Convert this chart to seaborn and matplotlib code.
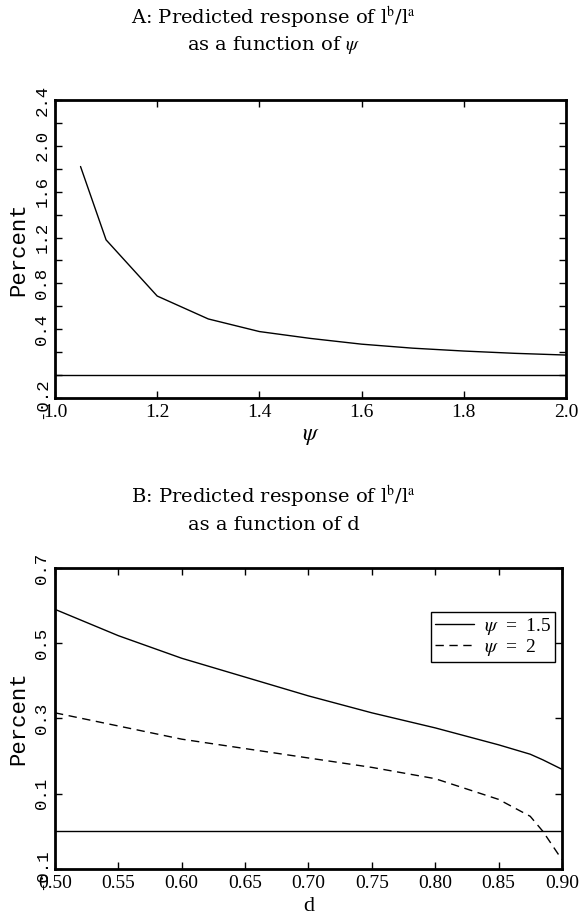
import seaborn as sns
import matplotlib.pyplot as plt
import numpy as np

# panel A: response against psi
psi = [1.05, 1.1, 1.2, 1.3, 1.4, 1.5, 1.6, 1.7, 1.8, 1.9, 2.0]
response_psi = [1.82, 1.18, 0.69, 0.49, 0.38, 0.32, 0.27, 0.235, 0.21, 0.19, 0.175]
psi_xticks = [1.0, 1.2, 1.4, 1.6, 1.8, 2.0]
psi_xticklabels = ['1.0', '1.2', '1.4', '1.6', '1.8', '2.0']
psi_yticks = [-0.2, 0.0, 0.2, 0.4, 0.6, 0.8, 1.0, 1.2, 1.4, 1.6, 1.8, 2.0, 2.2, 2.4]
psi_yticklabels = ['-0.2', '', '', '0.4', '', '0.8', '', '1.2', '', '1.6', '', '2.0', '', '2.4']

# panel B: response against d
d = [0.50, 0.55, 0.60, 0.65, 0.70, 0.75, 0.80, 0.85, 0.875, 0.885, 0.90]
response_psi15 = [0.59, 0.52, 0.46, 0.41, 0.36, 0.315, 0.275, 0.23, 0.205, 0.19, 0.165]
response_psi2 = [0.315, 0.28, 0.245, 0.22, 0.195, 0.17, 0.14, 0.085, 0.04, 0.0, -0.075]
d_xticks = [0.50, 0.55, 0.60, 0.65, 0.70, 0.75, 0.80, 0.85, 0.90]
d_xticklabels = ['0.50', '0.55', '0.60', '0.65', '0.70', '0.75', '0.80', '0.85', '0.90']
d_yticks = [-0.1, 0.1, 0.3, 0.5, 0.7]
d_yticklabels = ['-0.1', '0.1', '0.3', '0.5', '0.7']

sns.set_style('ticks')
plt.rcParams['font.family'] = ['Liberation Serif', 'DejaVu Serif']
plt.rcParams['mathtext.fontset'] = 'stix'
plt.rcParams['text.color'] = 'black'
plt.rcParams['axes.labelcolor'] = 'black'
plt.rcParams['xtick.color'] = 'black'
plt.rcParams['ytick.color'] = 'black'

serif = 'Liberation Serif'
title_font = 'DejaVu Serif'
mono = 'Liberation Mono'

fig = plt.figure(figsize=(5.8, 9.22), dpi=100)
ax1 = fig.add_axes([0.0948, 0.5683, 0.881, 0.3232])
ax2 = fig.add_axes([0.0948, 0.0575, 0.874, 0.3265])


def style_axes(ax):
    for s in ax.spines.values():
        s.set_linewidth(2)
        s.set_color('black')
    ax.tick_params(direction='in', top=True, right=True, length=5, width=1,
                   colors='black', pad=4)
    ax.axhline(0, color='black', lw=1)


sns.lineplot(x=psi, y=response_psi, color='black', lw=1, ax=ax1)
style_axes(ax1)
ax1.set_xlim(1.0, 2.0)
ax1.set_ylim(-0.2, 2.4)
ax1.set_xticks(psi_xticks, psi_xticklabels, family=serif, fontsize=14)
ax1.set_yticks(psi_yticks, psi_yticklabels, family=mono, fontsize=12.5,
               rotation=90, va='center')
ax1.set_xlabel(r'$\psi$', fontsize=17, labelpad=4)
ax1.set_ylabel('Percent', family=mono, fontsize=16, labelpad=4)

sns.lineplot(x=d, y=response_psi15, color='black', lw=1, ax=ax2,
             label=r'$\psi$  =  1.5')
sns.lineplot(x=d, y=response_psi2, color='black', lw=1, ax=ax2,
             label=r'$\psi$  =  2')
ax2.lines[1].set_dashes((6, 4))
style_axes(ax2)
ax2.set_xlim(0.50, 0.90)
ax2.set_ylim(-0.1, 0.7)
ax2.set_xticks(d_xticks, d_xticklabels, family=serif, fontsize=14)
ax2.set_yticks(d_yticks, d_yticklabels, family=mono, fontsize=12.5,
               rotation=90, va='center')
ax2.set_xlabel('d', fontsize=16, labelpad=4)
ax2.set_ylabel('Percent', family=mono, fontsize=16, labelpad=4)
leg = ax2.legend(loc='upper right', bbox_to_anchor=(0.986, 0.854),
                 borderaxespad=0, fancybox=False, framealpha=1,
                 edgecolor='black', prop={'family': serif, 'size': 14},
                 handlelength=2.0, borderpad=0.2, labelspacing=0.0,
                 handletextpad=0.5)
leg.get_frame().set_linewidth(1)

title_kw = dict(ha='center', va='center', fontsize=14, family=title_font,
                color='black')
fig.text(0.472, 1 - 18 / 922, r'A: Predicted response of l$^{\mathrm{b}}$/l$^{\mathrm{a}}$', **title_kw)
fig.text(0.472, 1 - 45 / 922, r'as a function of $\psi$', **title_kw)
fig.text(0.472, 1 - 497 / 922, r'B: Predicted response of l$^{\mathrm{b}}$/l$^{\mathrm{a}}$', **title_kw)
fig.text(0.472, 1 - 525 / 922, 'as a function of d', **title_kw)

fig.savefig('out.png', dpi=100)
